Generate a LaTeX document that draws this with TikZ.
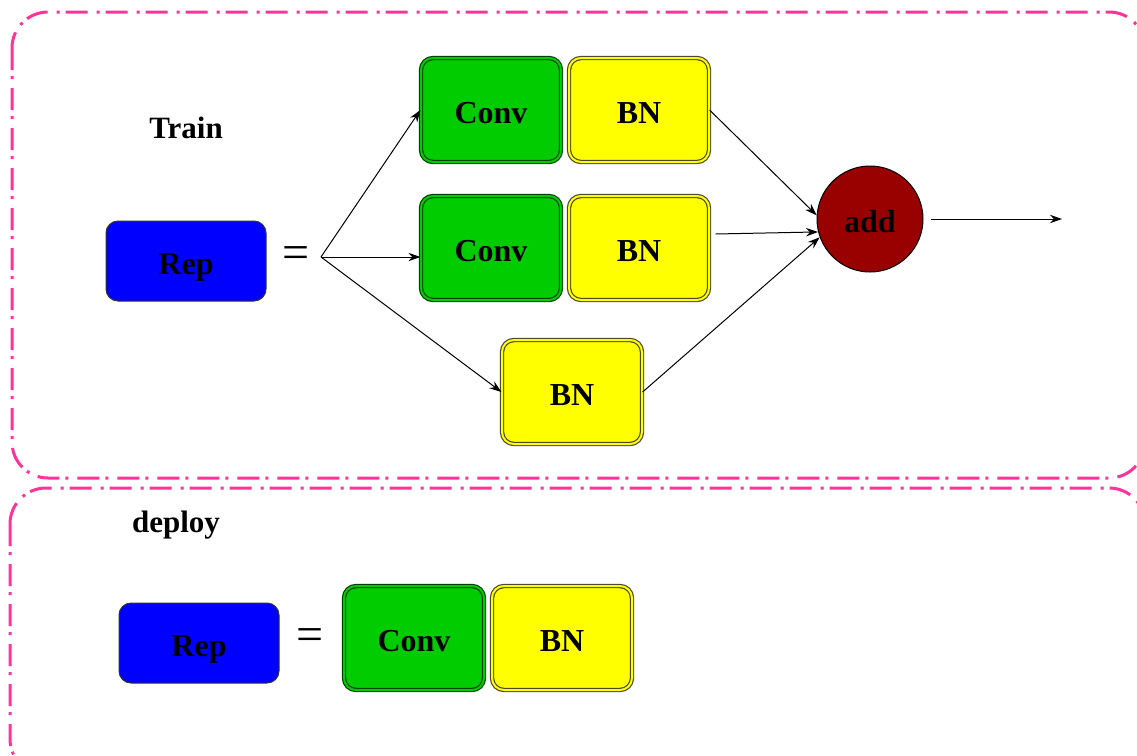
\documentclass[tikz,border=0pt]{standalone}
\usepackage{fontspec}
\setmainfont{Liberation Serif}
\usepackage{tikz}
\usetikzlibrary{shapes.geometric, arrows.meta}
\definecolor{framepink}{HTML}{FF3399}
\definecolor{convgreen}{HTML}{00CC00}
\definecolor{bnyellow}{HTML}{FFFF00}
\definecolor{repblue}{HTML}{0000FF}
\definecolor{addred}{HTML}{990000}
\tikzstyle{arrow} = [-{Stealth[length=6pt,width=4.2pt]},line width=.5pt]
\tikzstyle{frame} = [framepink,line width=1.5pt,rounded corners=18pt,dash pattern=on 11pt off 3pt on 1.5pt off 4.5pt]
\tikzstyle{txt} = [font=\fontsize{16}{19}\selectfont\bfseries,text height=13.5pt,text depth=0pt]
\tikzstyle{blk} = [txt,rounded corners=6pt,minimum width=70pt,minimum height=52pt,line width=.6pt,double distance=1pt]
\tikzstyle{conv} = [blk,draw=black!75!green,double=convgreen,fill=convgreen]
\tikzstyle{bn} = [blk,draw=black!60!olive,double=bnyellow,fill=bnyellow]
\tikzstyle{rep} = [txt,draw=black!80,fill=repblue,rounded corners=6pt,minimum width=80pt,minimum height=40pt,line width=.5pt]
\tikzstyle{title} = [font=\fontsize{15.5}{18}\selectfont\bfseries]
\tikzstyle{eq} = [font=\fontsize{24}{28}\selectfont]

\begin{document}
\begin{tikzpicture}[x=.5pt,y=-.5pt]
      \useasboundingbox(0,0)rectangle(1137,756);
      % the two stages
      \draw[frame](12,12)rectangle(1145,478);
      \draw[frame](10,488)rectangle(1145,775);
      \node[title](train)at(186,128){Train};
      \node[title](deploy)at(176,525){deploy};
      % train: three branches summed
      \node[rep](rep1)at(186,261){Rep};
      \node[eq](eq1)at(296,258){=};
      \coordinate(br)at(321,257);
      \node[conv](conv1)at(491,110){Conv};
      \node[bn](bn1)at(639,110){BN};
      \node[conv](conv2)at(491,248){Conv};
      \node[bn](bn2)at(639,248){BN};
      \node[bn](bn3)at(572,392){BN};
      \node[txt,circle,draw,line width=.5pt,fill=addred,minimum size=53pt,inner sep=0pt](add)at(870,219){add};
      \coordinate(out)at(1062,219);
      \draw[arrow](br)--(conv1.west);
      \draw[arrow](br)--(br-|conv2.west);
      \draw[arrow](br)--(bn3.west);
      \draw[arrow](bn1.east)--(add.176);
      \draw[arrow]([xshift=3pt,yshift=7pt]bn2.east)--(add.194);
      \draw[arrow](bn3.east)--(add.200);
      \draw[arrow,shorten <=3.5pt](add.east)--(out);
      % deploy: single conv + bn
      \node[rep](rep2)at(199,643){Rep};
      \node[eq](eq2)at(310,640){=};
      \node[conv](conv3)at(414,638){Conv};
      \node[bn](bn4)at(562,638){BN};
    \end{tikzpicture}
\end{document}
